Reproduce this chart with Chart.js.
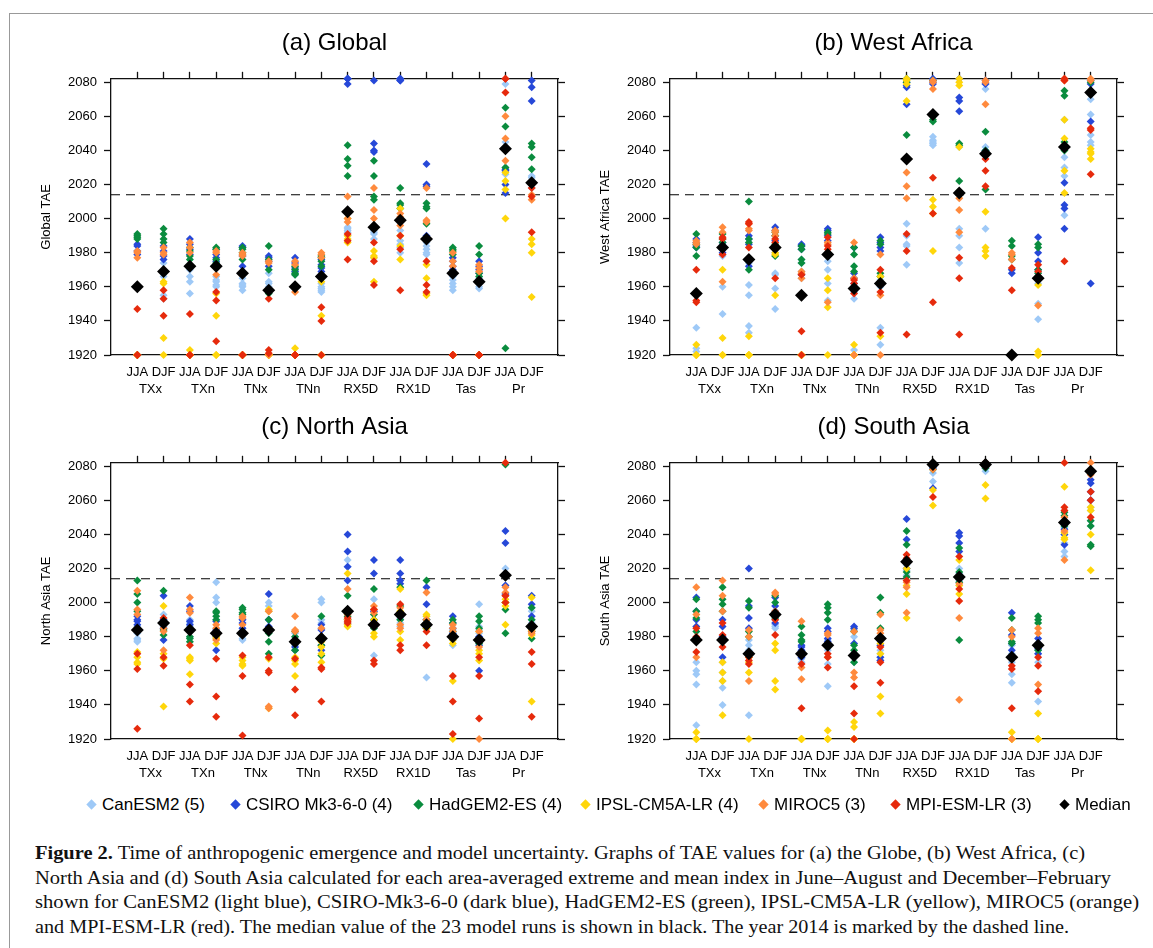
<!DOCTYPE html>
<html lang="en">
<head>
  <meta charset="UTF-8">
  <title>Time of anthropogenic emergence</title>
  <script src="https://cdn.jsdelivr.net/npm/chart.js"></script>
  <style>
    body { margin: 0; background: #fff; width: 1153px; height: 948px; position: relative; overflow: hidden;
           font-family: "Liberation Sans", Arial, Helvetica, sans-serif; }
    .frame { position: absolute; left: 9px; top: 13px; width: 1200px; height: 1000px;
             border-left: 1px solid #999; border-top: 1px solid #999; }
    canvas { position: absolute; }
    .leg { position: absolute; top: 794px; height: 22px; line-height: 22px; font-size: 17px; color: #000; white-space: nowrap; }
    .leg i { position: absolute; left: -14px; top: 7px; width: 7px; height: 7px; transform: rotate(45deg) scale(1.05, 1.05); }
    .cap { position: absolute; left: 35px; font-family: "Liberation Serif", "Times New Roman", serif; font-size: 19px;
           color: #111; white-space: nowrap; transform-origin: 0 50%; }
  </style>
</head>
<body>
  <div class="frame"></div>
  <canvas id="pa" width="568" height="410" style="left:0;top:0"></canvas>
  <canvas id="pb" width="568" height="410" style="left:559px;top:0"></canvas>
  <canvas id="pc" width="568" height="410" style="left:0;top:384px"></canvas>
  <canvas id="pd" width="568" height="410" style="left:559px;top:384px"></canvas>
  <div id="legend"></div>
  <div class="cap" style="top:842px"><b>Figure 2.</b> Time of anthropogenic emergence and model uncertainty. Graphs of TAE values for (a) the Globe, (b) West Africa, (c)</div>
  <div class="cap" style="top:867px">North Asia and (d) South Asia calculated for each area-averaged extreme and mean index in June–August and December–February</div>
  <div class="cap" style="top:891px">shown for CanESM2 (light blue), CSIRO-Mk3-6-0 (dark blue), HadGEM2-ES (green), IPSL-CM5A-LR (yellow), MIROC5 (orange)</div>
  <div class="cap" style="top:916px">and MPI-ESM-LR (red). The median value of the 23 model runs is shown in black. The year 2014 is marked by the dashed line.</div>

  <script>
    // categories and labels
    const seasons = ["JJA", "DJF"];
    const variables = ["TXx", "TXn", "TNx", "TNn", "RX5D", "RX1D", "Tas", "Pr"];
    const yTicks = [1920, 1940, 1960, 1980, 2000, 2020, 2040, 2060, 2080];
    const modelNames = ["CanESM2", "CSIRO Mk3-6-0", "HadGEM2-ES", "IPSL-CM5A-LR", "MIROC5", "MPI-ESM-LR"];
    const runCounts = [5, 4, 4, 4, 3, 3];
    const year2014 = 2014;

    // (a) Global: one entry per column (JJA/DJF x variable), runs inside
    const glbCan = [[1920,1920,1920,1920,1920],[1974,1968,1966,1955,1953],[1973,1963,1956,1970,1966],[1966,1963,1961,1960,1964],
      [1965,1962,1960,1958,1961],[1968,1963,1960,1958,1962],[1972,1970,1968,1967,1975],[1962,1959,1957,1958,1960],
      [1994,1993,1992,1990,1995],[1992,1991,1977,1988,1993],[1993,1987,1983,1980,1985],[1982,1980,1979,1984,1986],
      [1964,1962,1960,1958,1966],[1965,1962,1960,1959,1963],[2079,2045,2030,2026,2028],[2025,2022,2020,2018,2024]];
    const glbCsiro = [[1984,1985,1981,1979],[1976,1981,1984,1978],[1988,1985,1982,1979],[1979,1982,1975,1977],
      [1984,1983,1978,1972],[1978,1977,1972,1975],[1977,1974,1971,1969],[1971,1973,1976,1969],
      [2082,2079,2082,2082],[2081,2044,2040,2039],[2082,2081,2081,2082],[2032,2020,2019,1990],
      [1977,1975,1972,1970],[1975,1972,1970,1968],[2029,2028,2015,2020],[2081,2077,2069,2020]];
    const glbHad = [[1991,1990,1989,1988],[1994,1991,1988,1986],[1983,1981,1976,1978],[1983,1982,1976,1974],
      [1983,1982,1980,1976],[1984,1970,1956,1976],[1972,1970,1968,1967],[1978,1975,1977,1972],
      [2043,2035,2031,2025],[2034,2025,2013,2011],[2018,2009,2008,2006],[2009,2007,2006,1997],
      [1983,1982,1981,1979],[1984,1979,1966,1968],[2065,2054,2030,1924],[2044,2042,2036,2029]];
    const glbIpsl = [[1920,1920,1920,1920],[1963,1962,1930,1920],[1923,1920,1920,1920],[1956,1943,1920,1920],
      [1920,1920,1920,1920],[1920,1920,1920,1920],[1924,1920,1920,1920],[1963,1943,1920,1920],
      [1986,1988,2000,1990],[1981,1978,1977,1963],[2006,1984,1976,1990],[1973,1965,1956,1955],
      [1920,1920,1920,1920],[1920,1920,1920,1920],[2027,2022,2017,2000],[1988,1985,1980,1954]];
    const glbMiroc = [[1981,1980,1977],[1983,1980,1979],[1986,1983,1980],[1981,1980,1967],
      [1980,1979,1978],[1974,1975,1920],[1975,1973,1957],[1980,1979,1977],
      [2013,2000,1998],[2018,2005,2000],[2003,2001,1996],[2018,1999,1998],
      [1980,1975,1972],[1973,1971,1969],[2060,2047,2034],[2014,2011,2020]];
    const glbMpi = [[1947,1920,1920],[1958,1953,1943],[1944,1920,1920],[1957,1952,1928],
      [1920,1920,1920],[1953,1923,1921],[1920,1920,1920],[1948,1940,1920],
      [1991,1987,1976],[1986,1975,1961],[1990,1982,1958],[1975,1961,1957],
      [1920,1920,1920],[1920,1920,1920],[2082,2074,2082],[2018,2013,1992]];
    const glbMedian = [1960,1969,1972,1972,1968,1958,1960,1966,2004,1995,1999,1988,1968,1963,2041,2021];

    // (b) West Africa
    const wafCan = [[1936,1924,1920,1985,1922],[1978,1960,1944,1982,1985],[1961,1955,1937,1933,1974],[1968,1967,1959,1947,1980],
      [1984,1976,1974,1969,1965],[1970,1962,1952,1980,1975],[1953,1923,1960,1965,1957],[1936,1926,1985,1964,1960],
      [1997,1985,1984,1973,1990],[2048,2046,2043,2045,2044],[1994,1990,1983,1974,2042],[2076,1994,2040,2042,2079],
      [1920,1920,1920,1920,1920],[1950,1941,1966,1962,1968],[2058,2036,2025,2002,2030],[2070,2061,2043,2045,2049]];
    const wafCsiro = [[1988,1986,1984,1983],[1986,1984,1982,1980],[1990,1988,1985,1972],[1995,1993,1990,1987],
      [1985,1984,1982,1967],[1994,1993,1990,1987],[1983,1968,1965,1962],[1989,1986,1983,1981],
      [2078,2077,2067,2080],[2082,2080,2079,2081],[2071,2069,2063,2082],[2079,2081,2040,2039],
      [1968,1920,1920,1970],[1989,1980,1975,1970],[2008,2006,1994,2021],[2057,2081,2079,1962]];
    const wafHad = [[1991,1983,1978,1985],[1991,1988,1986,1984],[2010,1988,1986,1970],[1992,1990,1985,1978],
      [1984,1982,1976,1974],[1992,1991,1978,1980],[1983,1979,1972,1969],[1987,1985,1968,1966],
      [2049,2082,2080,2036],[2081,2057,2060,2058],[2044,2022,2043,2016],[2051,2040,2017,2037],
      [1987,1984,1978,1976],[1985,1983,1970,1968],[2075,2072,2040,2045],[2080,2075,2073,2074]];
    const wafIpsl = [[1926,1920,1920,1920],[1970,1930,1920,1920],[1931,1920,1920,1920],[1982,1979,1955,1980],
      [1920,1920,1920,1920],[1965,1958,1948,1920],[1926,1920,1920,1920],[1966,1931,1962,1963],
      [2082,2069,2081,2079],[2011,2007,2003,1981],[2082,2078,2042,2080],[2004,1983,1981,1978],
      [1920,1920,1920,1920],[1961,1922,1920,1920],[2058,2047,2028,2015],[2041,2039,2035,2038]];
    const wafMiroc = [[1987,1986,1985],[1995,1992,1963],[1997,1994,1993],[1993,1992,1990],
      [1969,1968,1965],[1986,1951,1985],[1986,1920,1965],[1979,1955,1920],
      [2027,2019,2012],[2081,2076,2080],[2012,2005,1992],[2081,2067,2080],
      [1980,1979,1976],[1949,1965,1966],[2082,2081,2042],[2081,2082,2074]];
    const wafMpi = [[1970,1952,1951],[1989,1988,1979],[1998,1983,1997],[1988,1965,1986],
      [1967,1934,1920],[1989,1984,1982],[1964,1962,1956],[1970,1957,1933],
      [1991,1981,1932],[2024,2003,1951],[1977,1965,1932],[2035,2028,2019],
      [1971,1958,1920],[1973,1969,1966],[2082,2081,1975],[2052,2026,2053]];
    const wafMedian = [1956,1983,1976,1983,1955,1979,1959,1962,2035,2061,2015,2038,1920,1965,2042,2074];

    // (c) North Asia
    const nasCan = [[1979,1977,1982,1986,1978],[1993,1990,1986,1985,1989],[1988,1986,1983,1980,1990],[2012,2003,2000,1985,1990],
      [1979,1983,1985,1978,1990],[2000,1998,1985,1990,1995],[1980,1978,1976,1975,1982],[2002,2000,1990,1988,1985],
      [2025,2021,1990,1988,1987],[2002,1969,1995,1990,1985],[1990,1988,1986,1994,1991],[1956,1990,1985,1988,1992],
      [1975,1978,1982,1984,1980],[1999,1986,1982,1984,1980],[2020,2015,2010,2005,2000],[1997,1995,1990,1988,1985]];
    const nasCsiro = [[1992,1989,1987,1990],[2004,1978,1990,1985],[1998,1995,1989,1987],[1989,1972,1984,1980],
      [1985,1990,1988,1983],[2005,1990,1986,1984],[1978,1974,1972,1976],[1987,1972,1984,1975],
      [2040,2030,2021,2013],[2025,2017,1995,1990],[2025,2017,2013,2011],[2009,1999,1990,1988],
      [1992,1988,1985,1982],[1960,1975,1978,1980],[2042,2035,2010,2005],[2004,1999,1992,1985]];
    const nasHad = [[2013,2005,2000,1995],[2007,1981,1987,1984],[1980,1979,1977,1984],[1995,1994,1992,1990],
      [1997,1996,1994,1993],[1990,1977,1970,1982],[1980,1976,1972,1983],[1992,1975,1969,1980],
      [2004,1996,1992,1990],[2008,1993,1990,1985],[2009,1998,1993,1990],[2013,1990,1985,1988],
      [1990,1988,1983,1979],[1992,1989,1985,1976],[2081,1996,1982,2000],[1997,1979,1983,1990]];
    const nasIpsl = [[1971,1965,1964,1968],[1998,1939,1970,1967],[1968,1967,1958,1966],[1980,1979,1976,1982],
      [1966,1964,1963,1968],[1996,1995,1938,1967],[1966,1964,1957,1968],[1974,1965,1977,1970],
      [2017,1990,1987,1986],[1990,1982,1980,1986],[2008,1978,1983,1995],[1993,1992,1987,1985],
      [1954,1920,1978,1976],[1983,1970,1966,1972],[2002,1987,2000,1998],[2003,1942,1984,1981]];
    const nasMiroc = [[2007,1996,1993],[1983,1972,1985],[2003,1996,1994],[1987,1978,1985],
      [1992,1987,1991],[1939,1938,1995],[1992,1984,1983],[1985,1980,1978],
      [2008,1993,1990],[1998,1996,1994],[1985,1987,1997],[2006,1990,1988],
      [1987,1985,1983],[1983,1974,1920],[2009,2006,2004],[1987,1983,1982]];
    const nasMpi = [[1970,1961,1926],[1991,1968,1963],[1975,1952,1942],[1967,1945,1933],
      [1969,1957,1922],[1968,1960,1959],[1967,1949,1934],[1962,1961,1942],
      [1991,1989,1988],[1996,1966,1964],[1999,1975,1972],[1983,1975,1986],
      [1957,1942,1923],[1968,1957,1932],[2082,2004,2000],[1971,1964,1933]];
    const nasMedian = [1984,1988,1984,1982,1982,1984,1977,1979,1995,1987,1993,1987,1980,1978,2016,1986];

    // (d) South Asia
    const sasCan = [[1965,1960,1958,1952,1928],[1950,1940,1954,1965,1959],[1978,1934,1975,1972,1968],[1986,1987,1990,1992,1985],
      [1965,1968,1972,1970,1967],[1964,1951,1972,1975,1978],[1984,1980,1970,1968,1965],[1968,1966,1970,1972,1975],
      [2025,2022,2020,2019,2016],[2071,2080,2079,2076,2081],[2020,2017,2013,2010,2012],[2077,2081,2080,2081,2079],
      [1958,1953,1965,1970,1975],[1942,1970,1965,1972,1975],[2027,2030,2035,2040,2044],[2056,2054,2048,2045,2060]];
    const sasCsiro = [[2003,1986,1990,1995],[1986,1968,1990,1980],[2020,1998,1991,1985],[2003,1988,1995,1998],
      [1975,1974,1972,1968],[1985,1979,1983,1977],[1986,1985,1976,1970],[1968,1966,1980,1975],
      [2049,2037,2025,2020],[2067,2081,2080,2079],[2041,2039,2035,2030],[2081,2080,2082,2079],
      [1994,1981,1976,1972],[1979,1976,1973,1970],[2046,2034,2040,2043],[2072,2070,2065,2060]];
    const sasHad = [[2002,1995,1991,1983],[2009,2002,1999,1995],[2001,1997,1983,1980],[2000,1991,1994,2004],
      [1986,1981,1978,1977],[1999,1997,1994,1990],[1983,1972,1965,1975],[2003,1994,1985,1980],
      [2042,2034,2018,2015],[2081,2080,2078,2082],[2032,2018,2012,1978],[2081,2082,2080,2079],
      [1991,1977,1976,1984],[1992,1990,1988,1972],[2053,2051,2045,2048],[2048,2045,2034,2033]];
    const sasIpsl = [[1924,1920,1920,1920],[1965,1959,1954,1934],[1959,1920,1965,1968],[1976,1972,1954,1949],
      [1920,1920,1920,1920],[1925,1920,1920,1920],[1930,1927,1920,1920],[1976,1945,1935,1970],
      [2020,2005,1991,2010],[2066,2057,2081,2080],[2025,2005,2015,2010],[2069,2061,2081,2080],
      [1924,1920,1920,1920],[1935,1920,1920,1920],[2068,2041,2038,2037],[2056,2054,2040,2019]];
    const sasMiroc = [[2009,1993,1968],[2013,2004,1995],[1984,1980,1954],[2006,2005,1995],
      [1989,1962,1955],[1982,1981,1968],[1983,1959,1956],[1993,1984,1982],
      [2009,1994,2012],[2078,2081,2082],[1991,1943,2011],[2081,2080,2082],
      [1984,1980,1920],[1985,1982,1952],[2025,2042,2050],[2082,2078,2075]];
    const sasMpi = [[1985,1971,1980],[1988,1981,1974],[1966,1964,1968],[1981,1993,1990],
      [1964,1938,1970],[1970,1968,1962],[1951,1935,1920],[1974,1965,1953],
      [2028,2013,2026],[2062,2081,2080],[2027,2001,2008],[2081,2080,2082],
      [1963,1961,1938],[1968,1963,1948],[2082,2056,2054],[2065,2060,2050]];
    const sasMedian = [1978,1978,1970,1993,1970,1975,1969,1979,2024,2081,2015,2081,1968,1975,2047,2077];

    const modelColors = ["#9ec9f7", "#2648d8", "#0a8c3e", "#ffd60a", "#ff8a3d", "#e62a0c"];

    Chart.defaults.font.family = '"Liberation Sans", Arial, Helvetica, sans-serif';
    Chart.defaults.color = "#000";

    const nCols = variables.length * seasons.length;
    const colTicks = Array.from({ length: nCols }, (_, i) => ({ value: i + 1 }));
    const varTicks = variables.map((_, i) => ({ value: 2 * i + 1.5 }));
    const axisLine = { color: "#111", width: 1.3 };
    const outTicks = { drawOnChartArea: false, tickLength: 7, tickColor: "#111", tickWidth: 1.3 };

    function makePanel(id, title, yTitle, series, median) {
      const datasets = [{
        type: "line",
        data: [{ x: 0, y: year2014 }, { x: nCols + 1, y: year2014 }],
        borderColor: "#000", borderWidth: 1.2, borderDash: [9, 6],
        pointRadius: 0, order: 20
      }];
      series.forEach((cols, m) => {
        const pts = [];
        cols.forEach((runs, i) => runs.forEach(v => pts.push({ x: i + 1, y: v })));
        datasets.push({
          label: modelNames[m], data: pts, pointStyle: "rectRot", pointRadius: 4,
          pointBorderWidth: 0, backgroundColor: modelColors[m], borderColor: modelColors[m],
          order: 10 - m, clip: false
        });
      });
      datasets.push({
        label: "Median", data: median.map((v, i) => ({ x: i + 1, y: v })),
        pointStyle: "rectRot", pointRadius: 6.5, pointBorderWidth: 0,
        backgroundColor: "#000", borderColor: "#000", order: 0, clip: false
      });

      new Chart(document.getElementById(id), {
        type: "scatter",
        data: { datasets: datasets },
        options: {
          responsive: false, animation: false, events: [],
          layout: { padding: 0 },
          plugins: {
            legend: { display: false }, tooltip: { enabled: false },
            title: { display: true, text: title, fullSize: false, color: "#000",
                     font: { size: 24, weight: "normal" }, padding: { top: 29, bottom: 11 } }
          },
          scales: {
            x: {
              type: "linear", position: "bottom", min: 0, max: nCols + 1,
              afterBuildTicks: s => { s.ticks = colTicks.slice(); },
              ticks: { callback: v => seasons[(v - 1) % 2], autoSkip: false, maxRotation: 0, padding: 10, font: { size: 13 } },
              grid: { drawOnChartArea: false, drawTicks: false },
              border: axisLine,
              afterFit: s => { s.height = 27; }
            },
            x2: {
              type: "linear", position: "bottom", min: 0, max: nCols + 1,
              afterBuildTicks: s => { s.ticks = varTicks.slice(); },
              ticks: { callback: v => variables[(v - 1.5) / 2], autoSkip: false, maxRotation: 0, padding: 0, font: { size: 13 } },
              grid: { display: false, drawTicks: false }, border: { display: false },
              afterFit: s => { s.height = 28; }
            },
            xTop: {
              type: "linear", position: "top", min: 0, max: nCols + 1,
              afterBuildTicks: s => { s.ticks = colTicks.slice(); },
              ticks: { display: false }, grid: outTicks, border: axisLine,
              afterFit: s => { s.height = 10; }
            },
            y: {
              type: "linear", position: "left", min: 1920, max: 2082,
              afterBuildTicks: s => { s.ticks = yTicks.map(v => ({ value: v })); },
              ticks: { callback: v => String(v), padding: 7, font: { size: 13 } },
              grid: outTicks, border: axisLine,
              title: { display: true, text: yTitle, font: { size: 13 }, padding: { top: 39, bottom: 0 } },
              afterFit: s => { s.width = 111; }
            },
            yRight: {
              type: "linear", position: "right", min: 1920, max: 2082,
              afterBuildTicks: s => { s.ticks = yTicks.map(v => ({ value: v })); },
              ticks: { display: false }, grid: outTicks, border: axisLine,
              afterFit: s => { s.width = 10; }
            }
          }
        }
      });
    }

    makePanel("pa", "(a) Global", "Global TAE", [glbCan, glbCsiro, glbHad, glbIpsl, glbMiroc, glbMpi], glbMedian);
    makePanel("pb", "(b) West Africa", "West Africa TAE", [wafCan, wafCsiro, wafHad, wafIpsl, wafMiroc, wafMpi], wafMedian);
    makePanel("pc", "(c) North Asia", "North Asia TAE", [nasCan, nasCsiro, nasHad, nasIpsl, nasMiroc, nasMpi], nasMedian);
    makePanel("pd", "(d) South Asia", "South Asia TAE", [sasCan, sasCsiro, sasHad, sasIpsl, sasMiroc, sasMpi], sasMedian);

    // legend (HTML)
    const legendLeft = [102, 246, 429, 596, 774, 906, 1075];
    const legendItems = modelNames.map((n, i) => ({ text: n + " (" + runCounts[i] + ")", color: modelColors[i] }));
    legendItems.push({ text: "Median", color: "#000" });
    const legendDiv = document.getElementById("legend");
    legendItems.forEach((it, i) => {
      const d = document.createElement("div");
      d.className = "leg";
      d.style.left = legendLeft[i] + "px";
      d.innerHTML = '<i style="background:' + it.color + '"></i>' + it.text;
      legendDiv.appendChild(d);
    });

    // caption lines stretched to the widths of the original
    const capWidths = [1050, 1076, 1104, 1034];
    document.querySelectorAll(".cap").forEach((el, i) => {
      const w = el.getBoundingClientRect().width;
      el.style.transform = "scaleX(" + (capWidths[i] / w) + ")";
    });
  </script>
</body>
</html>
